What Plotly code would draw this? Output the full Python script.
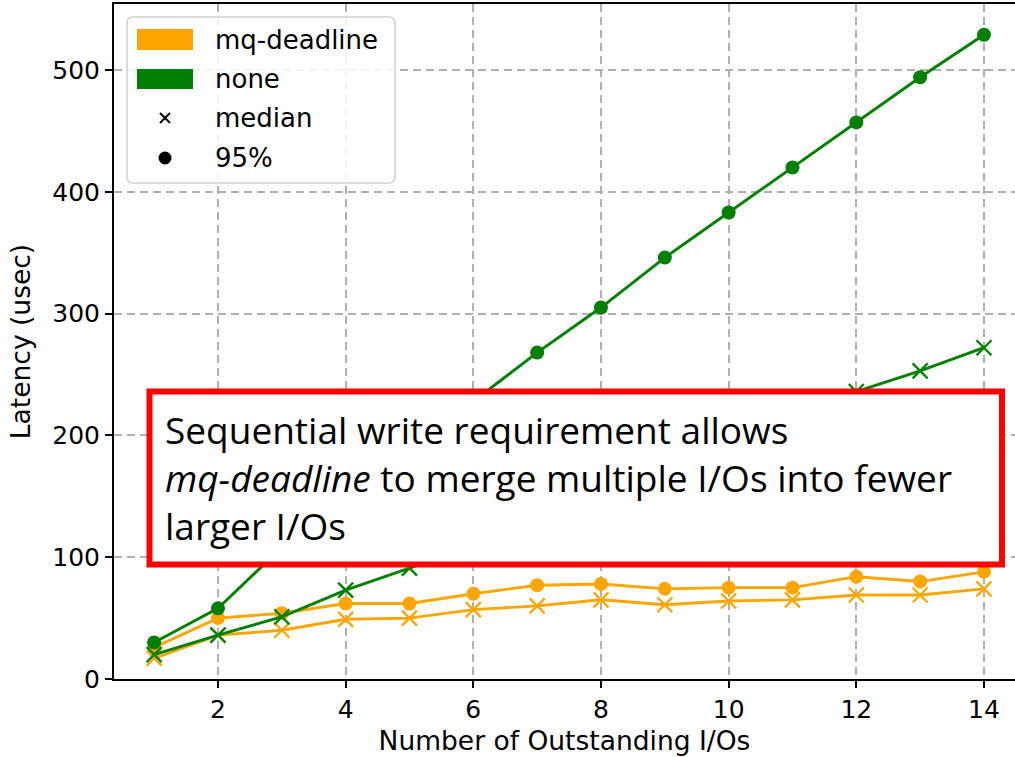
import plotly.graph_objects as go

# ---------------- data ----------------
outstanding = [1, 2, 3, 4, 5, 6, 7, 8, 9, 10, 11, 12, 13, 14]
mq_median = [17, 36, 40, 49, 50, 57, 60, 65, 61, 64, 65, 69, 69, 74]
mq_p95 = [26, 50, 54, 62, 62, 70, 77, 78, 74, 75, 75, 84, 80, 88]
none_median = [20, 36, 51, 73, 91, 110, 130, 152, 172, 193, 214, 236, 253, 272]
none_p95 = [30, 58, 108, 148, 188, 228, 268, 305, 346, 383, 420, 457, 494, 529]
x_ticks = [2, 4, 6, 8, 10, 12, 14]
y_ticks = [0, 100, 200, 300, 400, 500]
legend_labels = ["mq-deadline", "none", "median", "95%"]
callout_lines = ["Sequential write requirement allows",
                 "<i>mq-deadline</i> to merge multiple I/Os into fewer",
                 "larger I/Os"]

ORANGE = "#FFA500"
GREEN = "#008000"
FONT = "DejaVu Sans"

fig = go.Figure()

def add_series(y, color, symbol, size, msym_line):
    fig.add_trace(go.Scatter(
        x=outstanding, y=y, mode="lines+markers",
        line=dict(color=color, width=2.9),
        marker=dict(symbol=symbol, size=size, color=color,
                    line=dict(color=color, width=msym_line)),
        showlegend=False, hoverinfo="skip"))

add_series(mq_median, ORANGE, "x-thin", 15, 2.3)
add_series(mq_p95, ORANGE, "circle", 14, 0)
add_series(none_median, GREEN, "x-thin", 15, 2.3)
add_series(none_p95, GREEN, "circle", 14, 0)

grid = dict(showgrid=True, gridcolor="#b0b0b0", gridwidth=1.5, griddash="8px,5px")

fig.update_layout(
    width=1015, height=757,
    margin=dict(l=114, r=0, t=4, b=78, pad=0),
    paper_bgcolor="white", plot_bgcolor="white",
    font=dict(family=FONT, color="black"),
    xaxis=dict(range=[0.371, 14.486], tickvals=x_ticks,
               showline=True, mirror=True, linecolor="black", linewidth=2,
               ticks="outside", ticklen=7, tickwidth=1.5, tickcolor="black",
               tickfont=dict(family=FONT, size=25), zeroline=False,
               title=dict(text="Number of Outstanding I/Os",
                          font=dict(family=FONT, size=26.5), standoff=8),
               **grid),
    yaxis=dict(range=[0, 554.2], tickvals=y_ticks,
               showline=True, mirror=False, linecolor="black", linewidth=2,
               ticks="outside", ticklen=7, tickwidth=1.5, tickcolor="black",
               tickfont=dict(family=FONT, size=25), zeroline=False,
               title=dict(text="Latency (usec)",
                          font=dict(family=FONT, size=26.5), standoff=14),
               **grid),
    xaxis2=dict(overlaying="x", anchor="y2", range=[114, 1015], visible=False,
                fixedrange=True),
    yaxis2=dict(overlaying="y", anchor="x2", range=[679, 4], visible=False,
                fixedrange=True),
)
# an empty trace so the overlay axes exist
fig.add_trace(go.Scatter(x=[None], y=[None], xaxis="x2", yaxis="y2",
                         showlegend=False, hoverinfo="skip"))

def rounded_rect(x0, y0, x1, y1, r):
    return (f"M {x0+r},{y0} L {x1-r},{y0} Q {x1},{y0} {x1},{y0+r} "
            f"L {x1},{y1-r} Q {x1},{y1} {x1-r},{y1} L {x0+r},{y1} "
            f"Q {x0},{y1} {x0},{y1-r} L {x0},{y0+r} Q {x0},{y0} {x0+r},{y0} Z")

shapes = []
# legend frame
shapes.append(dict(type="path", xref="x2", yref="y2",
                   path=rounded_rect(127, 17, 395, 183, 6),
                   line=dict(color="#d0d0d0", width=1.5),
                   fillcolor="rgba(255,255,255,0.85)", layer="above"))
# legend patches
shapes.append(dict(type="rect", xref="x2", yref="y2", x0=137, y0=29, x1=193, y1=50,
                   line=dict(width=0), fillcolor=ORANGE, layer="above"))
shapes.append(dict(type="rect", xref="x2", yref="y2", x0=137, y0=69, x1=193, y1=89,
                   line=dict(width=0), fillcolor=GREEN, layer="above"))
# legend marker glyphs: x and dot
shapes.append(dict(type="line", xref="x2", yref="y2", x0=160, y0=113, x1=170, y1=123,
                   line=dict(color="black", width=2), layer="above"))
shapes.append(dict(type="line", xref="x2", yref="y2", x0=160, y0=123, x1=170, y1=113,
                   line=dict(color="black", width=2), layer="above"))
shapes.append(dict(type="circle", xref="x2", yref="y2", x0=158.5, y0=151.5, x1=171.5, y1=164.5,
                   line=dict(width=0), fillcolor="black", layer="above"))
# callout box
shapes.append(dict(type="rect", xref="x2", yref="y2", x0=149.5, y0=391.5, x1=1002, y1=564.5,
                   line=dict(color="#FF0000", width=6),
                   fillcolor="white", layer="above"))
fig.update_layout(shapes=shapes)

annotations = []
for label, yy in zip(legend_labels, [40, 79, 118, 158]):
    annotations.append(dict(x=213, y=yy, xref="x2", yref="y2", text=label,
                            showarrow=False, xanchor="left", yanchor="middle",
                            font=dict(family=FONT, size=26, color="black")))
annotations.append(dict(x=163, y=477.5, xref="x2", yref="y2", text="<br>".join(callout_lines),
                        showarrow=False, xanchor="left", yanchor="middle", align="left",
                        font=dict(family="Open Sans", size=37, color="black")))
fig.update_layout(annotations=annotations)

fig.write_html("out.html")
